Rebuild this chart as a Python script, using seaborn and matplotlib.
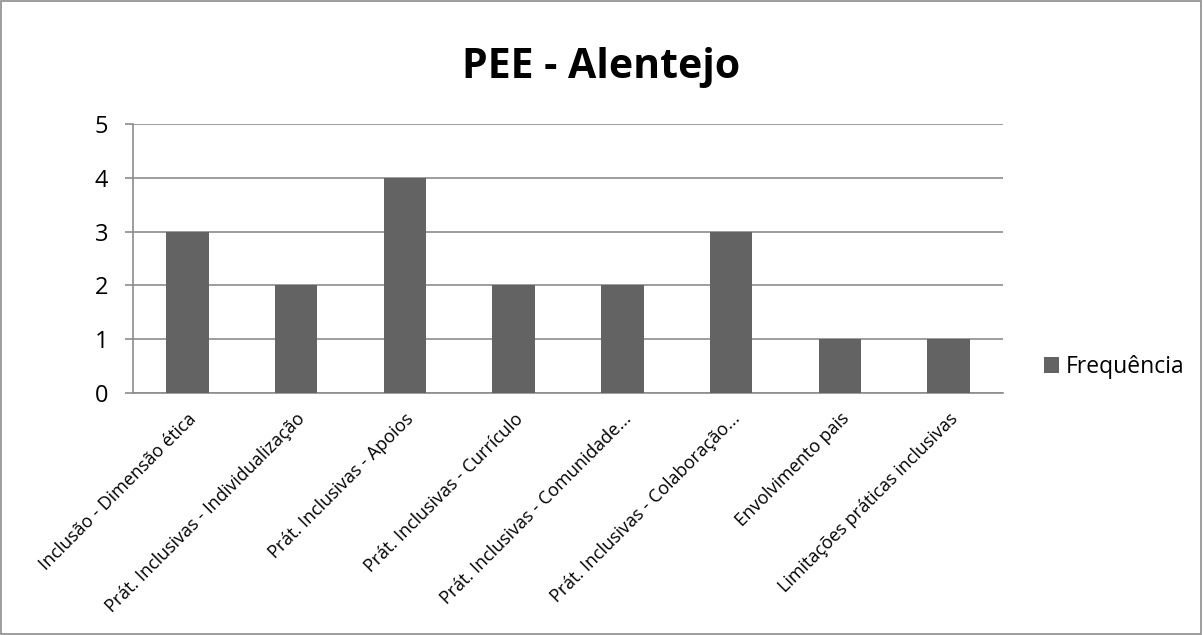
import matplotlib
matplotlib.use("Agg")
import matplotlib.pyplot as plt
import seaborn as sns
import pandas as pd
from matplotlib.patches import Rectangle, Patch

categorias = [
    "Inclusão - Dimensão ética",
    "Prát. Inclusivas - Individualização",
    "Prát. Inclusivas - Apoios",
    "Prát. Inclusivas - Currículo",
    "Prát. Inclusivas - Comunidade...",
    "Prát. Inclusivas - Colaboração...",
    "Envolvimento pais",
    "Limitações práticas inclusivas",
]
frequencia = [3, 2, 4, 2, 2, 3, 1, 1]
y_ticks = [0, 1, 2, 3, 4, 5]

sns.set_style("white")
plt.rcParams["font.family"] = ["Open Sans", "DejaVu Sans"]
plt.rcParams["text.color"] = "black"
plt.rcParams["xtick.labelcolor"] = "black"
plt.rcParams["ytick.labelcolor"] = "black"

BAR = "#636363"
GRID = "#8c8c8c"

df = pd.DataFrame({"Categoria": categorias, "Frequência": frequencia})

fig = plt.figure(figsize=(12.03, 6.35), dpi=100)
ax = fig.add_axes([0.1106, 0.381, 0.7231, 0.4237])

sns.barplot(data=df, x="Categoria", y="Frequência", color=BAR, width=0.39,
            saturation=1, linewidth=0, ax=ax, zorder=3)

ax.set_xlim(-0.5, len(categorias) - 0.5)
ax.set_ylim(0, 5)
ax.set_yticks(y_ticks)
ax.set_yticklabels([str(v) for v in y_ticks], fontsize=17)
ax.yaxis.grid(True, color=GRID, linewidth=1.2, zorder=0)
ax.set_axisbelow(True)

ax.set_xticks(range(len(categorias)))
ax.set_xticklabels(categorias, rotation=45, ha="right", rotation_mode="anchor",
                   fontsize=13)
ax.set_xticks([i - 0.5 for i in range(len(categorias) + 1)], minor=True)
ax.tick_params(axis="x", which="major", length=0, pad=12)
ax.tick_params(axis="x", which="minor", length=6, color=GRID, width=1.2)
ax.tick_params(axis="y", length=6, color=GRID, width=1.2, pad=12, left=True)
ax.set_xlabel("")
ax.set_ylabel("")

for side in ["top", "right"]:
    ax.spines[side].set_visible(False)
for side in ["left", "bottom"]:
    ax.spines[side].set_color(GRID)
    ax.spines[side].set_linewidth(1.2)

fig.text(0.5, 0.893, "PEE - Alentejo", ha="center", va="center",
         fontsize=29.5, fontweight="bold", color="black")

handle = Patch(facecolor=BAR, edgecolor="none", label="Frequência")
fig.legend(handles=[handle], loc="center left", bbox_to_anchor=(0.858, 0.422),
           frameon=False, fontsize=16.5, handlelength=0.65, handleheight=0.65,
           handletextpad=0.3, borderpad=0)

fig.patches.append(Rectangle((0.001, 0.002), 0.997, 0.996, transform=fig.transFigure,
                             fill=False, edgecolor="#8c8c8c", linewidth=1.2))

fig.savefig("out.png", dpi=100, facecolor="white")
